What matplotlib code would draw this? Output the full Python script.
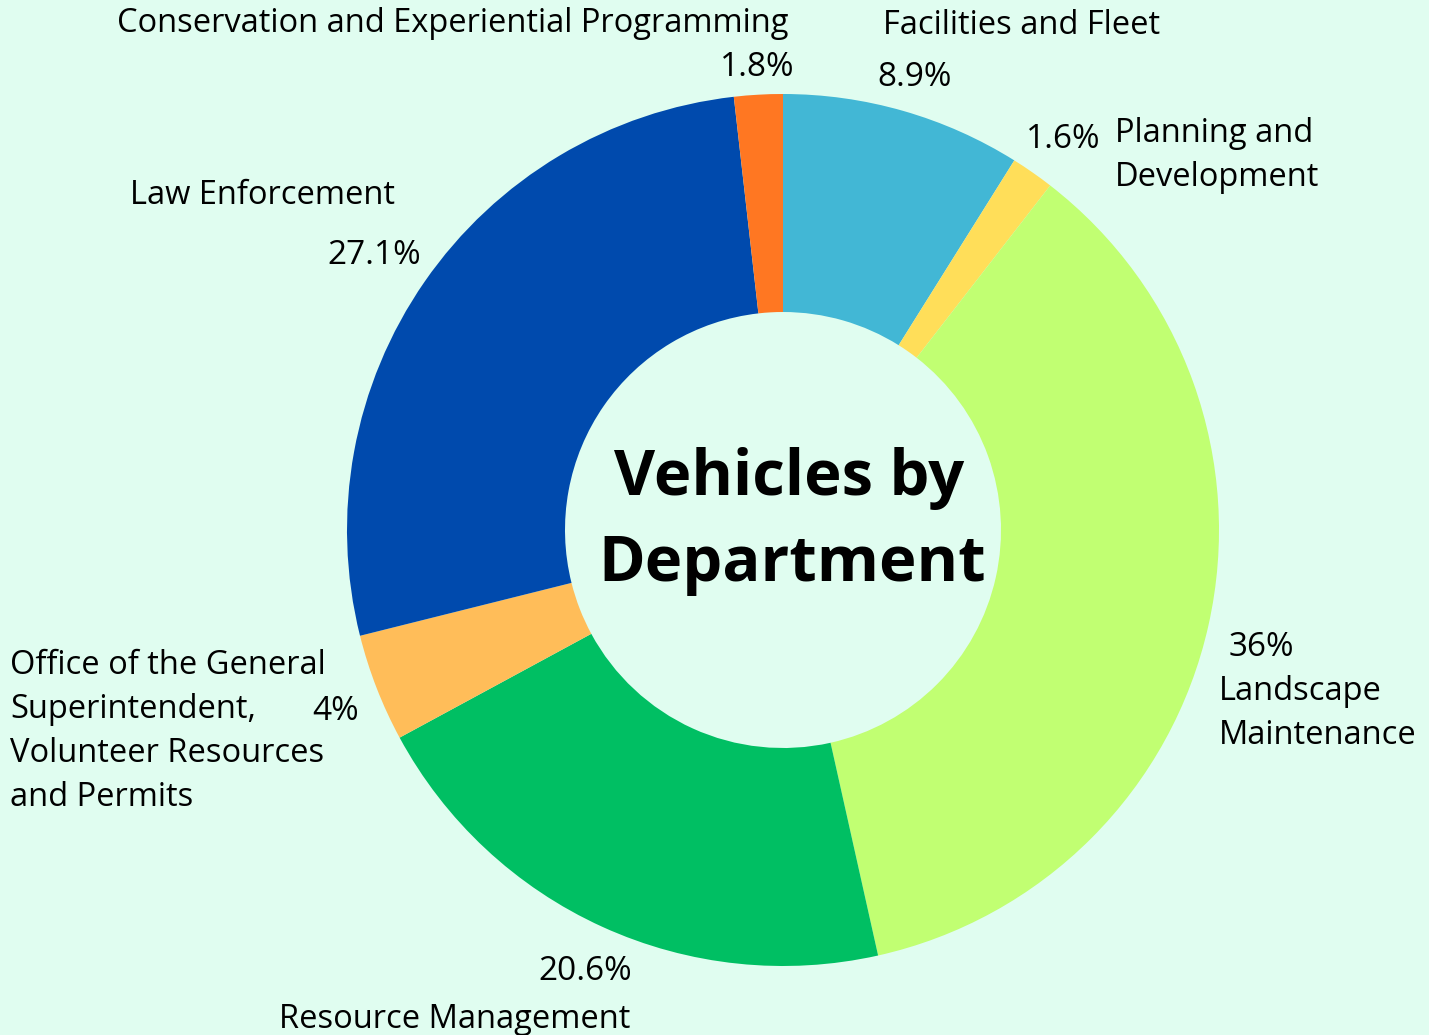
import matplotlib
matplotlib.use("Agg")
import matplotlib.pyplot as plt

categories = ["Facilities and Fleet", "Planning and\nDevelopment", "Landscape\nMaintenance",
              "Resource Management", "Office of the General\nSuperintendent,\nVolunteer Resources\nand Permits",
              "Law Enforcement", "Conservation and Experiential Programming"]
values = [8.9, 1.6, 36, 20.6, 4, 27.1, 1.8]
pct_labels = ["8.9%", "1.6%", "36%", "20.6%", "4%", "27.1%", "1.8%"]
colors = ["#42B7D5", "#FFDE59", "#C1FF72", "#00BF63", "#FFBD59", "#004AAD", "#FF7722"]

BG = "#E0FDF0"
W, H = 1429, 1035
fig = plt.figure(figsize=(W / 100, H / 100), dpi=100, facecolor=BG)
cx, cy, r = 783, 530, 436
ax = fig.add_axes([(cx - r) / W, (H - cy - r) / H, 2 * r / W, 2 * r / H])
ax.set_facecolor(BG)
ax.pie(values, colors=colors, startangle=90, counterclock=False,
       wedgeprops=dict(width=0.5, linewidth=0), radius=1)
ax.set_xlim(-1, 1)
ax.set_ylim(-1, 1)
ax.set_aspect("equal")
ax.axis("off")

FONT = "Open Sans"

def put(text, x, y, ha="left", size=24, weight="normal", va="center", ls=1.4, family=FONT):
    fig.text(x / W, 1 - y / H, text, ha=ha, va=va, fontsize=size, fontweight=weight,
             family=family, color="black", linespacing=ls)

# category labels (x, y of first line center, ha); each line drawn separately, 44 px apart
LINE = 44
cat_pos = [(1022, 26, "center"), (1115, 133, "left"), (1219, 692, "left"),
           (455, 1019, "center"), (10, 665, "left"), (263, 195, "center"), (453, 24, "center")]
for c, (x, y, ha) in zip(categories, cat_pos):
    for i, line in enumerate(c.split("\n")):
        put(line, x, y + i * LINE, ha=ha, size=23.5)

pct_pos = [(915, 77, "center"), (1063, 140, "center"), (1261, 648, "center"),
           (585, 972, "center"), (336, 712, "center"), (374, 256, "center"), (757, 68, "center")]
for p, (x, y, ha) in zip(pct_labels, pct_pos):
    put(p, x, y, ha=ha, size=24, weight=500)

put("Vehicles by", 789, 479, ha="center", size=45.5, weight="bold")
put("Department", 792, 565, ha="center", size=45.5, weight="bold")

fig.savefig("out.png", dpi=100, facecolor=BG)
